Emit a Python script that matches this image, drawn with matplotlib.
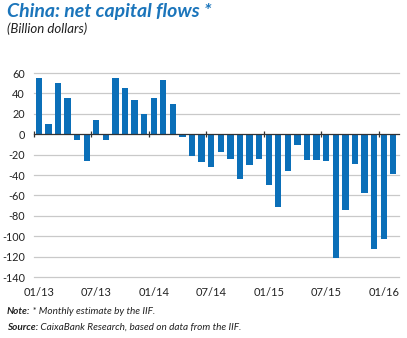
import numpy as np
import matplotlib
matplotlib.use("Agg")
import matplotlib.pyplot as plt

plt.rcParams['font.family'] = ['Lato', 'DejaVu Sans']

# Datos mensuales (miles de millones de dólares), ene-2013 a feb-2016
flows_2013 = [55, 10, 50, 35, -6, -26, 14, -6, 55, 45, 34, 20]
flows_2014 = [35, 53, 30, -3, -21, -27, -32, -17, -24, -44, -30, -24]
flows_2015 = [-50, -71, -36, -11, -25, -25, -26, -121, -74, -29, -58, -113]
flows_2016 = [-103, -39]
values = flows_2013 + flows_2014 + flows_2015 + flows_2016

tick_labels = ['01/13', '07/13', '01/14', '07/14', '01/15', '07/15', '01/16']
y_ticks = list(range(-140, 61, 20))

blue = '#0b6fb8'
title_blue = '#1b75bb'
grid_gray = '#c9c9c9'

fig = plt.figure(figsize=(4.07, 3.38), dpi=100)
ax = fig.add_axes([34 / 407, 1 - 277 / 338, 365 / 407, 204 / 338])

x = np.arange(len(values))
ax.bar(x, values, width=0.66, color=blue, zorder=3)

ax.set_ylim(-140, 60)
ax.set_xlim(-0.5, len(values) - 0.4)
ax.set_yticks(y_ticks)
ax.set_yticklabels([str(v) for v in y_ticks], fontsize=7.8, color='#222222')
ax.tick_params(axis='y', length=0, pad=6.5)
for v in y_ticks:
    if v != 0:
        ax.axhline(v, color=grid_gray, lw=0.9, zorder=1, clip_on=False)

for s in ['top', 'right', 'left']:
    ax.spines[s].set_visible(False)
ax.spines['bottom'].set_position(('data', 0))
ax.spines['bottom'].set_color('#333333')
ax.spines['bottom'].set_linewidth(0.9)
ax.spines['bottom'].set_zorder(4)
ax.set_xticks(np.arange(-0.5, len(values), 6))
ax.set_xticklabels([])
ax.tick_params(axis='x', direction='inout', length=5, width=0.9, color='#333333')

# etiquetas del eje x abajo
sec = ax.secondary_xaxis('bottom')
sec.set_xticks(np.arange(0, len(values), 6))
sec.set_xticklabels(tick_labels, fontsize=8, color='#222222')
sec.tick_params(length=0, pad=7)
sec.spines['bottom'].set_visible(False)

fig.text(7 / 407, 1 - 3 / 338, 'China: net capital flows *', fontsize=14,
         fontweight='bold', style='italic', color=title_blue, va='top')
fig.text(7 / 407, 1 - 22 / 338, '(Billion dollars)', fontsize=9.5,
         style='italic', color='#222222', va='top')

fig.canvas.draw()
r = fig.canvas.get_renderer()
for yy, bold, rest in [(312, 'Note:', ' * Monthly estimate by the IIF.'),
                       (327, 'Source:', ' CaixaBank Research, based on data from the IIF.')]:
    t = fig.text(7 / 407, 1 - yy / 338, bold, fontsize=7.2, fontweight='bold',
                 style='italic', color='#222222', va='center')
    bb = t.get_window_extent(renderer=r)
    fig.text(bb.x1 / fig.bbox.width, 1 - yy / 338, rest, fontsize=7.2,
             style='italic', color='#222222', va='center')

fig.savefig('out.png', dpi=100)
